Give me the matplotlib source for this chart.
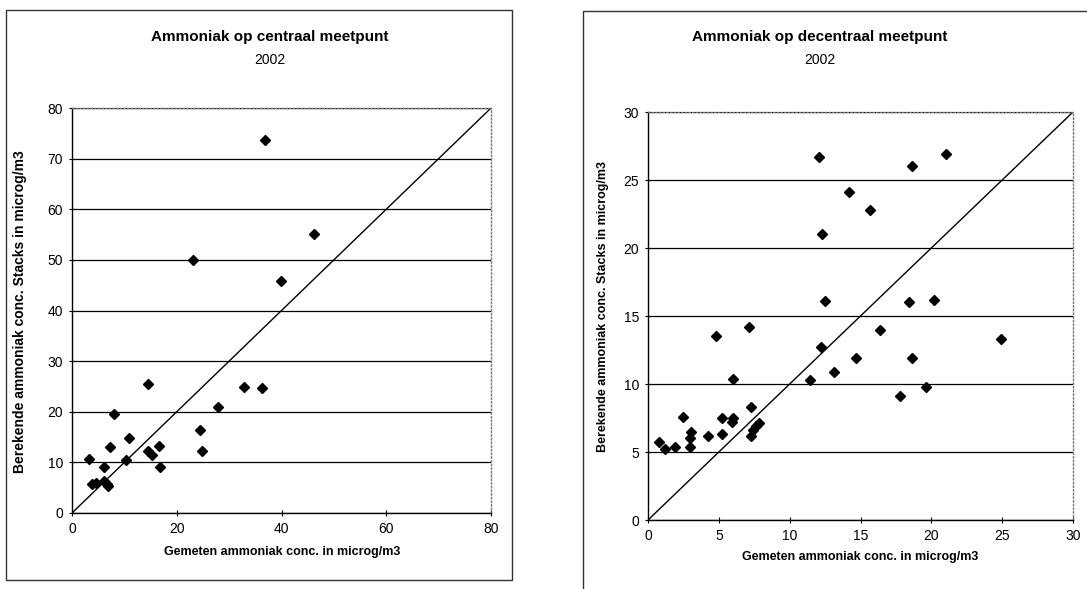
import matplotlib
matplotlib.use("Agg")
import matplotlib.pyplot as plt
from matplotlib.patches import Rectangle

plt.rcParams.update({
    "font.family": ["Liberation Sans", "DejaVu Sans"],
    "font.size": 9,
})

# ── Central measuring point (left panel) ──
central_measured = [36.8, 46.2, 23.1, 39.9, 14.6, 32.9, 36.3, 27.8, 8.0, 24.5,
                    10.8, 7.2, 16.6, 24.9, 14.5, 15.2, 10.4, 3.3, 6.1, 16.8,
                    3.9, 4.6, 6.1, 6.6, 6.9]
central_computed = [73.7, 55.1, 49.9, 45.9, 25.4, 24.8, 24.7, 20.9, 19.6, 16.4,
                    14.8, 13.1, 13.3, 12.3, 12.2, 11.5, 10.4, 10.6, 9.0, 9.0,
                    5.7, 5.9, 6.3, 5.8, 5.3]

# ── Decentral measuring point (right panel) ──
decentral_measured = [12.1, 18.6, 21.0, 14.2, 15.7, 12.3, 12.5, 18.4, 20.2, 7.1,
                      4.8, 16.4, 24.9, 12.2, 14.7, 18.6, 13.1, 11.4, 6.0, 19.6,
                      17.8, 7.3, 2.5, 5.2, 6.0, 5.9, 3.05, 2.95, 2.95, 4.2,
                      5.2, 0.8, 1.2, 1.9, 7.3, 7.4, 7.8, 7.6]
decentral_computed = [26.7, 26.0, 26.9, 24.1, 22.8, 21.0, 16.1, 16.0, 16.2, 14.2,
                      13.5, 14.0, 13.3, 12.7, 11.9, 11.9, 10.9, 10.3, 10.4, 9.8,
                      9.1, 8.3, 7.6, 7.5, 7.5, 7.2, 6.5, 6.0, 5.4, 6.2,
                      6.3, 5.7, 5.2, 5.4, 6.2, 6.6, 7.1, 6.9]

central_ticks_x = [0, 20, 40, 60, 80]
central_ticks_y = [0, 10, 20, 30, 40, 50, 60, 70, 80]
decentral_ticks = [0, 5, 10, 15, 20, 25, 30]

central_diag = [0, 80]
decentral_diag = [0, 30]

XLABEL = "Gemeten ammoniak conc. in microg/m3"
YLABEL = "Berekende ammoniak conc. Stacks in microg/m3"

W, H = 1087, 589
fig = plt.figure(figsize=(W / 100, H / 100), dpi=100)


def px_axes(x0, y0, x1, y1):
    # pixel box (top-left origin) -> figure axes
    return fig.add_axes([x0 / W, 1 - y1 / H, (x1 - x0) / W, (y1 - y0) / H])


def style(ax, xt, yt, lim_x, lim_y):
    ax.set_xlim(*lim_x)
    ax.set_ylim(*lim_y)
    ax.set_xticks(xt)
    ax.set_yticks(yt)
    ax.tick_params(direction="inout", length=5, width=0.8, labelsize=10,
                   colors="black", pad=4)
    for s in ["top", "right"]:
        ax.spines[s].set_color("#777777")
        ax.spines[s].set_linestyle(":")
        ax.spines[s].set_linewidth(1.0)
    for s in ["left", "bottom"]:
        ax.spines[s].set_linewidth(1.0)
    ax.grid(True, axis="y", color="black", linewidth=0.9)
    ax.set_axisbelow(True)


# borders of the two chart areas
fig.patches.append(Rectangle((6 / W, 1 - 580 / H), 506 / W, 570 / H,
                             transform=fig.transFigure, fill=False,
                             edgecolor="#333333", linewidth=1.0))
fig.patches.append(Rectangle((583 / W, -0.02), 0.47, 1 - 11 / H + 0.02,
                             transform=fig.transFigure, fill=False,
                             edgecolor="#333333", linewidth=1.0))

# ── left panel ──
ax1 = px_axes(72, 108, 491, 513)
style(ax1, central_ticks_x, central_ticks_y, (0, 80), (0, 80))
ax1.plot(central_diag, central_diag, color="black", linewidth=1.0, zorder=2)
ax1.plot(central_measured, central_computed, linestyle="none", marker="D",
         markersize=5.5, color="black", zorder=3, clip_on=False)
fig.text(270 / W, 1 - 37 / H, "Ammoniak op centraal meetpunt", ha="center",
         va="center", fontsize=11, fontweight="bold")
fig.text(270 / W, 1 - 60 / H, "2002", ha="center", va="center", fontsize=10)
fig.text(282 / W, 1 - 552 / H, XLABEL, ha="center", va="center",
         fontsize=9, fontweight="bold")
fig.text(20 / W, 1 - 312 / H, YLABEL, ha="center", va="center",
         rotation=90, fontsize=10, fontweight="bold")

# ── right panel ──
ax2 = px_axes(648, 112, 1073, 520)
style(ax2, decentral_ticks, decentral_ticks, (0, 30), (0, 30))
ax2.plot(decentral_diag, decentral_diag, color="black", linewidth=1.0, zorder=2)
ax2.plot(decentral_measured, decentral_computed, linestyle="none", marker="D",
         markersize=5.5, color="black", zorder=3, clip_on=False)
fig.text(820 / W, 1 - 37 / H, "Ammoniak op decentraal meetpunt", ha="center",
         va="center", fontsize=11, fontweight="bold")
fig.text(820 / W, 1 - 60 / H, "2002", ha="center", va="center", fontsize=10)
fig.text(860 / W, 1 - 557 / H, XLABEL, ha="center", va="center",
         fontsize=9, fontweight="bold")
fig.text(603 / W, 1 - 306 / H, YLABEL, ha="center", va="center",
         rotation=90, fontsize=9, fontweight="bold")

fig.savefig("out.png", dpi=100)
